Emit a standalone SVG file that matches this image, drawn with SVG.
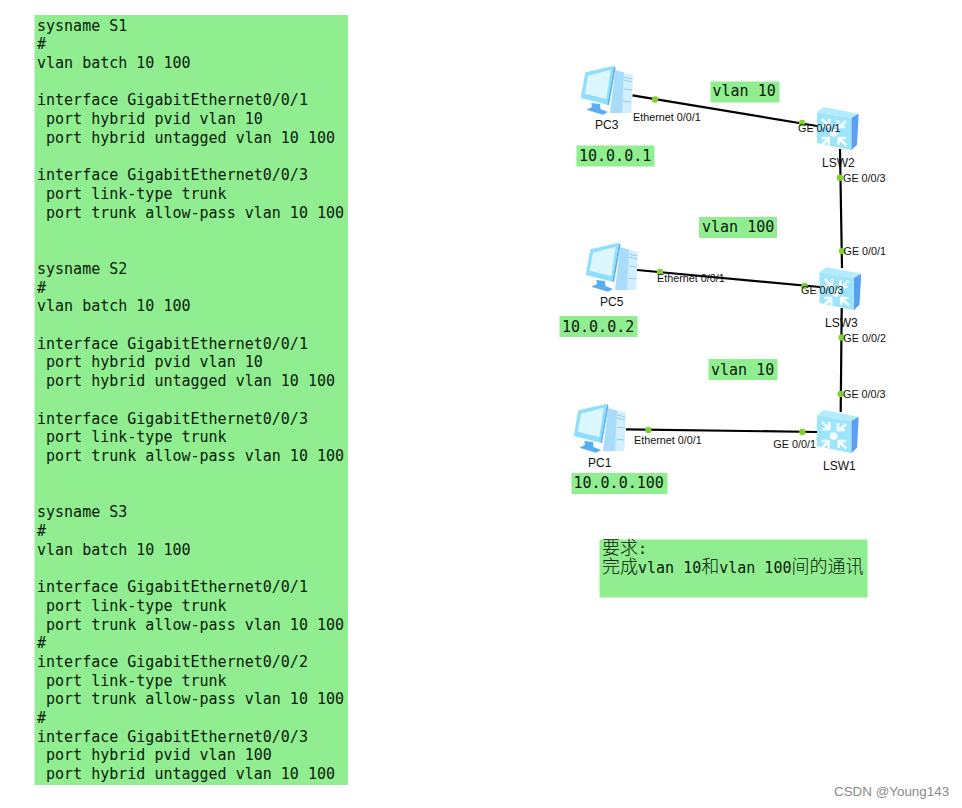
<svg xmlns="http://www.w3.org/2000/svg" width="962" height="808" viewBox="0 0 962 808">
<style>
.bg{fill:#90ee90}
.m{font-family:"DejaVu Sans Mono","Liberation Mono",monospace;font-size:15px;fill:#0a1a0a;white-space:pre}
.c{font-family:"Noto Sans CJK SC","DejaVu Sans",sans-serif;font-size:18px;font-weight:300}
.n{font-family:"Liberation Sans",Arial,sans-serif;font-size:12px;fill:#111}
.p{font-family:"Liberation Sans",Arial,sans-serif;font-size:10.8px;fill:#111}
.l{stroke:#000;stroke-width:2.2;fill:none}
.d{fill:#80d030}
</style>
<defs>
<g id="pc">
<path d="M35.3 5.3L53 9.7L51.3 48L30 48Z" fill="#d3effd"/>
<path d="M35.3 5.3L44 7.5L42 48L30 48Z" fill="#a8dcfb"/>
<path d="M44 12L52 14M44 15L52 17M44 24L52 25M43 36L51 37" stroke="#8fcdf3" stroke-width="1" fill="none"/>
<path d="M11.3 38L20 39L20.5 44L28 47L23 49.7L6.3 44.7L12 42Z" fill="#58aef2"/>
<path d="M34 0.7L35.5 3L29 40L27 40Z" fill="#55b0f3"/>
<path d="M5.3 7.3L34 0.7L27.5 39.7L0.7 33Z" fill="#8fdefc"/>
<path d="M8 10.7L30.7 4.7L26.3 34L4.7 28.7Z" fill="#dcf6fe"/>
</g>
<g id="sw">
<path d="M0 4.3L6.7 -1L41.7 5.7L34.3 10Z" fill="#b3ecfc"/>
<path d="M34.3 10L41.7 5.7L40 36.7L34.3 42.3Z" fill="#5a9ef0"/>
<path d="M0 4.3L34.3 10L34.3 42.3L0 35Z" fill="#9ee4fb"/>
<g stroke="#f4fdff" stroke-width="2.6" fill="none">
<path d="M5 11L12 18M12.3 11L12.3 18.3L5 18.3"/>
<path d="M29 13L21.5 19.5M21 12L21 19L28 19"/>
<path d="M5 37L11.5 30.5M4.7 30L11.7 30L11.7 37"/>
<path d="M29.5 37.5L22 30.5M29 30L21.7 30L21.7 37"/>
</g>
<circle cx="16.7" cy="25" r="3.8" fill="#f4fdff"/>
</g>
</defs>
<rect width="962" height="808" fill="#fff"/>

<g id="config">
<rect class="bg" x="34.5" y="15" width="313.5" height="770"/>
<g transform="translate(0 0.6)">
<text class="m" x="37" y="30">sysname S1</text>
<text class="m" x="37" y="48.7">#</text>
<text class="m" x="37" y="67.4">vlan batch 10 100</text>
<text class="m" x="37" y="104.9">interface GigabitEthernet0/0/1</text>
<text class="m" x="37" y="123.6"> port hybrid pvid vlan 10</text>
<text class="m" x="37" y="142.3"> port hybrid untagged vlan 10 100</text>
<text class="m" x="37" y="179.8">interface GigabitEthernet0/0/3</text>
<text class="m" x="37" y="198.5"> port link-type trunk</text>
<text class="m" x="37" y="217.2"> port trunk allow-pass vlan 10 100</text>
<text class="m" x="37" y="273.4">sysname S2</text>
<text class="m" x="37" y="292.1">#</text>
<text class="m" x="37" y="310.8">vlan batch 10 100</text>
<text class="m" x="37" y="348.2">interface GigabitEthernet0/0/1</text>
<text class="m" x="37" y="366.9"> port hybrid pvid vlan 10</text>
<text class="m" x="37" y="385.6"> port hybrid untagged vlan 10 100</text>
<text class="m" x="37" y="423.1">interface GigabitEthernet0/0/3</text>
<text class="m" x="37" y="441.8"> port link-type trunk</text>
<text class="m" x="37" y="460.5"> port trunk allow-pass vlan 10 100</text>
<text class="m" x="37" y="516.7">sysname S3</text>
<text class="m" x="37" y="535.4">#</text>
<text class="m" x="37" y="554.1">vlan batch 10 100</text>
<text class="m" x="37" y="591.6">interface GigabitEthernet0/0/1</text>
<text class="m" x="37" y="610.3"> port link-type trunk</text>
<text class="m" x="37" y="629"> port trunk allow-pass vlan 10 100</text>
<text class="m" x="37" y="647.7">#</text>
<text class="m" x="37" y="666.4">interface GigabitEthernet0/0/2</text>
<text class="m" x="37" y="685.1"> port link-type trunk</text>
<text class="m" x="37" y="703.8"> port trunk allow-pass vlan 10 100</text>
<text class="m" x="37" y="722.5">#</text>
<text class="m" x="37" y="741.2">interface GigabitEthernet0/0/3</text>
<text class="m" x="37" y="759.9"> port hybrid pvid vlan 100</text>
<text class="m" x="37" y="778.6"> port hybrid untagged vlan 10 100</text>
</g>
</g>

<g id="PC3"><use href="#pc" x="580" y="65"/><text class="n" x="595" y="129">PC3</text></g>
<g id="PC5"><use href="#pc" x="585" y="242"/><text class="n" x="600" y="306">PC5</text></g>
<g id="PC1"><use href="#pc" x="573" y="403"/><text class="n" x="588" y="467">PC1</text></g>
<g id="LSW2"><use href="#sw" x="817" y="108"/><text class="n" x="822" y="167">LSW2</text></g>
<g id="LSW3"><use href="#sw" x="819.5" y="268"/><text class="n" x="825" y="327">LSW3</text></g>
<g id="LSW1"><use href="#sw" x="817" y="411"/><text class="n" x="823" y="470">LSW1</text></g>

<g id="connectors">
<path class="l" d="M632.5 95.3L817 126"/>
<path class="l" d="M840 149L842 268"/>
<path class="l" d="M637 270L820 287"/>
<path class="l" d="M841.7 308L840.7 412"/>
<path class="l" d="M626 429.3L817 432"/>
<circle class="d" cx="655" cy="99.5" r="3.2"/>
<circle class="d" cx="802" cy="123" r="3.2"/>
<circle class="d" cx="840" cy="177.7" r="3.2"/>
<circle class="d" cx="842" cy="251" r="3.2"/>
<circle class="d" cx="660" cy="272" r="3.2"/>
<circle class="d" cx="804.5" cy="286" r="3.2"/>
<circle class="d" cx="841.7" cy="337.5" r="3.2"/>
<circle class="d" cx="840.7" cy="394" r="3.2"/>
<circle class="d" cx="648.3" cy="430" r="3.2"/>
<circle class="d" cx="802.3" cy="432" r="3.2"/>
<text class="p" x="633" y="120.7">Ethernet 0/0/1</text>
<text class="p" x="798" y="131.5">GE 0/0/1</text>
<text class="p" x="843" y="181.7">GE 0/0/3</text>
<text class="p" x="843.5" y="254.5">GE 0/0/1</text>
<text class="p" x="657" y="281.7">Ethernet 0/0/1</text>
<text class="p" x="801" y="294.3">GE 0/0/3</text>
<text class="p" x="843.3" y="341.7">GE 0/0/2</text>
<text class="p" x="843" y="397.7">GE 0/0/3</text>
<text class="p" x="634" y="443.5">Ethernet 0/0/1</text>
<text class="p" x="773.3" y="447.5">GE 0/0/1</text>
</g>

<g id="label-vlan10a"><rect class="bg" x="710.5" y="81.5" width="69" height="21"/><text class="m" x="712.5" y="96">vlan 10</text></g>
<g id="label-ip1"><rect class="bg" x="576.5" y="145.5" width="78" height="21"/><text class="m" x="579" y="160.5">10.0.0.1</text></g>
<g id="label-vlan100"><rect class="bg" x="699" y="217" width="78" height="21"/><text class="m" x="702" y="232">vlan 100</text></g>
<g id="label-ip2"><rect class="bg" x="559.5" y="316" width="78" height="21"/><text class="m" x="562" y="331.5">10.0.0.2</text></g>
<g id="label-vlan10b"><rect class="bg" x="708.5" y="359" width="69" height="21"/><text class="m" x="711" y="374.5">vlan 10</text></g>
<g id="label-ip3"><rect class="bg" x="571.5" y="473" width="96" height="21"/><text class="m" x="573.5" y="488">10.0.0.100</text></g>
<g id="requirement">
<rect class="bg" x="599.5" y="539.5" width="268" height="58"/>
<text class="m" x="602" y="554"><tspan class="c">要求</tspan>:</text>
<text class="m" x="602" y="572.7"><tspan class="c">完成</tspan>vlan 10<tspan class="c">和</tspan>vlan 100<tspan class="c">间的通讯</tspan></text>
</g>
<text x="834" y="796" font-family="'Liberation Sans',Arial,sans-serif" font-size="13.4px" fill="#8a8a8a">CSDN @Young143</text>
</svg>
